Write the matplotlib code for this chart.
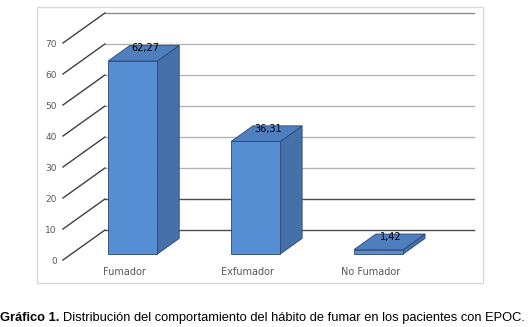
import matplotlib.pyplot as plt
from matplotlib.patches import Polygon, Rectangle

categories = ['Fumador', 'Exfumador', 'No Fumador']
values = [62.27, 36.31, 1.42]
value_labels = ['62,27', '36,31', '1,42']
yticks = [0, 10, 20, 30, 40, 50, 60, 70]

# fake 3d: depth offset of the back wall in data units
DX, DY = 0.3415, 9.68
d0, d1 = 0.2, 0.72   # bar front / back depth
w = 0.4


def proj(x, y, d):
    return (x + d * DX, y + d * DY)


fig = plt.figure(figsize=(5.3, 3.27), dpi=100)
ax = fig.add_axes([0, 0, 1, 1])
ax.set_xlim(-1.0122, 3.3)
ax.set_ylim(-21.6, 83.87)
ax.axis('off')

# outer chart frame
fig.patches.append(Rectangle((37 / 530, 1 - 283 / 327), 446 / 530, 276 / 327,
                             transform=fig.transFigure, fill=False,
                             edgecolor='#d9d9d9', linewidth=1))

# back wall gridlines + left wall diagonals
for v in yticks:
    if v <= 10:
        col = '#4d4d4d'
    elif v == 70:
        col = '#8c8c8c'
    else:
        col = '#b3b3b3'
    p1 = proj(-0.5, v, 1)
    p2 = proj(2.5, v, 1)
    ax.plot([p1[0], p2[0]], [p1[1], p2[1]], color=col, lw=1, zorder=1)
    q1 = proj(-0.5, v, 0)
    ax.plot([q1[0], p1[0]], [q1[1], p1[1]], color='#404040', lw=1, zorder=1)
    ax.text(q1[0] - 0.05, q1[1] - 0.6, str(v), ha='right', va='center',
            fontsize=6.5, color='#595959')

# bars
for i, v in enumerate(values):
    xl, xr = i - w / 2, i + w / 2
    side = [proj(xr, 0, d0), proj(xr, 0, d1), proj(xr, v, d1), proj(xr, v, d0)]
    top = [proj(xl, v, d0), proj(xr, v, d0), proj(xr, v, d1), proj(xl, v, d1)]
    front = [proj(xl, 0, d0), proj(xr, 0, d0), proj(xr, v, d0), proj(xl, v, d0)]
    ax.add_patch(Polygon(side, closed=True, facecolor='#4671a8',
                         edgecolor='#2a4770', lw=0.6, zorder=3))
    ax.add_patch(Polygon(top, closed=True, facecolor='#4f7fbf',
                         edgecolor='#2a4770', lw=0.6, zorder=3))
    ax.add_patch(Polygon(front, closed=True, facecolor='#578dd2',
                         edgecolor='#2a4770', lw=0.6, zorder=4))
    ax.text(i + 0.5 * DX, v + 6, value_labels[i], ha='center', va='center',
            fontsize=7, color='black', zorder=5)
    ax.text(i, -3.9, categories[i], ha='center', va='center',
            fontsize=7, color='#595959')

# caption: bold lead-in, then the rest right after it
yc = 1 - 318 / 327
t1 = fig.text(0.0, yc, 'Gráfico 1.', fontsize=9.3, fontweight='bold',
              family='Liberation Sans', ha='left', va='center')
fig.canvas.draw()
bb = t1.get_window_extent(fig.canvas.get_renderer())
fig.text(bb.x1 / fig.bbox.width + 4 / 530, yc,
         'Distribución del comportamiento del hábito de fumar en los pacientes con EPOC.',
         fontsize=9.3, family='Liberation Sans', ha='left', va='center')

fig.savefig('out.png', dpi=100)
